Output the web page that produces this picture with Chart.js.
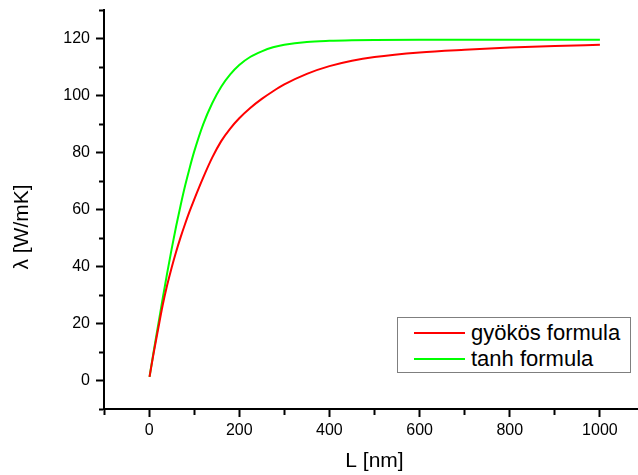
<!DOCTYPE html>
<html><head><meta charset="utf-8">
<script src="https://cdn.jsdelivr.net/npm/chart.js@4"></script>
<style>
html,body{margin:0;padding:0;background:#fff;overflow:hidden;}
#wrap{position:relative;width:638px;height:475px;overflow:hidden;background:#fff;}
#c{position:absolute;left:0;top:0;}
#legend{position:absolute;left:397px;top:317px;width:234px;height:56px;box-sizing:border-box;border:1px solid #7f7f7f;background:#fff;font-family:"Liberation Sans",Arial,sans-serif;font-size:22px;color:#000;}
.swatch{position:absolute;left:16px;width:51px;height:2px;}
.lbl{position:absolute;left:73px;line-height:26px;white-space:nowrap;}
</style></head>
<body><div id="wrap"><canvas id="c" width="650" height="475"></canvas><div id="legend"></div></div>
<script>
// ---- data ----
const L_nm    = [1, 10, 20, 30, 40, 50, 60, 70, 80, 90, 100, 120, 140, 160, 180, 200, 225, 250, 275, 300, 350, 400, 450, 500, 600, 700, 800, 900, 1000];
const gyokos  = [1.3, 9.5, 18, 26.3, 33.4, 39.6, 45.2, 50.3, 55.0, 59.4, 63.5, 71.2, 78.2, 84.0, 88.4, 92.0, 95.7, 98.8, 101.5, 103.9, 107.6, 110.3, 112.2, 113.5, 115.1, 116.05, 116.8, 117.35, 117.8];
const tanhF   = [1.3, 10, 19.3, 28.6, 37.6, 46.1, 54.1, 61.5, 68.4, 74.6, 80.3, 89.9, 97.3, 103.1, 107.4, 110.7, 113.6, 115.5, 116.9, 117.8, 118.8, 119.2, 119.4, 119.5, 119.6, 119.6, 119.6, 119.6, 119.6];
const seriesNames = ['gyökös formula', 'tanh formula'];
const seriesColors = ['#ff0000', '#00ff00'];
const xRange = [-100, 1100], xMinorStep = 100, xMajorStep = 200;
const yRange = [-10, 130],   yMinorStep = 10,  yMajorStep = 20;
const xTitle = 'L [nm]';
const yTitle = 'λ [W/mK]';

const FONT = '"Liberation Sans", Arial, sans-serif';
const toXY = (xs, ys) => xs.map((x, i) => ({x: x, y: ys[i]}));
const isMajor = (v, step) => Math.abs(v / step - Math.round(v / step)) < 1e-9;

const datasets = [gyokos, tanhF].map((vals, i) => ({
  label: seriesNames[i],
  data: toXY(L_nm, vals),
  borderColor: seriesColors[i],
  backgroundColor: seriesColors[i],
  borderWidth: 2,
  pointRadius: 0,
  cubicInterpolationMode: 'monotone',
  fill: false
}));

function axisOpts(range, minor, major, title, isY) {
  return {
    type: 'linear',
    min: range[0], max: range[1],
    border: {display: true, color: '#000', width: 2},
    grid: {
      drawOnChartArea: false, drawTicks: true, tickLength: 8,
      tickWidth: 2, tickColor: '#000',
      tickBorderDash: ctx => (ctx.tick && isMajor(ctx.tick.value, major)) ? [] : (isY ? [0, 3, 30] : [5, 30])
    },
    ticks: {
      stepSize: minor, autoSkip: false, maxRotation: 0, minRotation: 0,
      padding: isY ? 6 : 4, color: '#000',
      font: {family: FONT, size: 16},
      callback: v => isMajor(v, major) ? String(v) : ''
    },
    title: {
      display: true, text: isY ? title + '      ' : title, color: '#000',
      font: {family: FONT, size: 21},
      padding: isY ? {top: 10, bottom: 0} : {top: 2, bottom: 1}
    },
    afterFit: s => {
      if (isY) { s.width = 104; s.paddingTop = 0; s.paddingBottom = 0; }
      else { s.height = 66; s.paddingLeft = 0; s.paddingRight = 0; }
    }
  };
}

const chart = new Chart(document.getElementById('c'), {
  type: 'line',
  data: {datasets},
  options: {
    responsive: false, animation: false, devicePixelRatio: 1,
    layout: {padding: {left: 0, right: 5, top: 10, bottom: 0}},
    plugins: {legend: {display: false}, tooltip: {enabled: false}},
    scales: {
      x: axisOpts(xRange, xMinorStep, xMajorStep, xTitle, false),
      y: axisOpts(yRange, yMinorStep, yMajorStep, yTitle, true)
    }
  }
});

// HTML legend built from chart datasets
const lg = document.getElementById('legend');
chart.data.datasets.forEach((ds, i) => {
  const sw = document.createElement('div');
  sw.className = 'swatch';
  sw.style.top = (14.3 + i * 26) + 'px';
  sw.style.background = ds.borderColor;
  const t = document.createElement('div');
  t.className = 'lbl';
  t.style.top = (2.4 + i * 26) + 'px';
  t.textContent = ds.label;
  lg.appendChild(sw); lg.appendChild(t);
});
</script>
</body></html>
